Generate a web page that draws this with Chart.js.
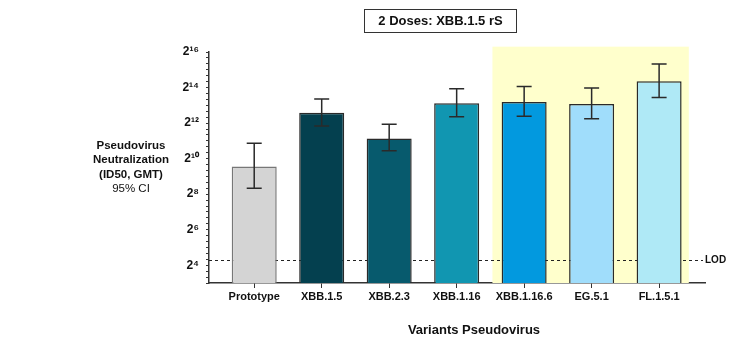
<!DOCTYPE html>
<html>
<head>
<meta charset="utf-8">
<script src="https://cdn.jsdelivr.net/npm/chart.js@4.4.1/dist/chart.umd.min.js"></script>
<style>
    body { margin: 0; background: #fff; font-family: "Liberation Sans", Arial, sans-serif; }
    #wrap { position: relative; width: 748px; height: 342px; }
    #chart { position: absolute; left: 0; top: 0; }
    .title-box { position: absolute; left: 364px; top: 9px; width: 151px; height: 22px; border: 1.5px solid #333;
        font-weight: bold; font-size: 13px; line-height: 22px; text-align: center; color: #111; }
    .y-label { position: absolute; left: 71px; top: 138px; width: 120px; text-align: center; font-size: 11.5px;
        line-height: 14.3px; color: #111; }
    .y-label b { font-weight: bold; }
    .x-label { position: absolute; left: 400px; top: 322px; width: 148px; text-align: center; font-size: 13px;
        font-weight: bold; color: #111; }
</style>
</head>
<body>
<div id="wrap">
    <canvas id="chart" width="748" height="342"></canvas>
    <div class="title-box">2 Doses: XBB.1.5 rS</div>
    <div class="y-label"><b>Pseudovirus<br>Neutralization<br>(ID50, GMT)</b><br>95% CI</div>
    <div class="x-label">Variants Pseudovirus</div>
</div>
<script>
// values are log2 of the GMT titer
const variants = ['Prototype', 'XBB.1.5', 'XBB.2.3', 'XBB.1.16', 'XBB.1.16.6', 'EG.5.1', 'FL.1.5.1'];
const gmtLog2 = [9.55, 12.58, 11.13, 13.12, 13.19, 13.08, 14.36];
const ciLowLog2 = [8.33, 11.83, 10.44, 12.35, 12.39, 12.24, 13.44];
const ciHighLog2 = [10.87, 13.36, 11.94, 13.93, 14.06, 13.98, 15.33];
const barColors = ['#d4d4d4', '#04404f', '#075a6d', '#1196b1', '#0299df', '#a0ddfb', '#afe9f6'];
const borderColors = ['#777777', '#2a2a2a', '#2a2a2a', '#2a2a2a', '#2a2a2a', '#2a2a2a', '#2a2a2a'];
const yTickPowers = [4, 6, 8, 10, 12, 14, 16];
const lodLog2 = 4.32;

const SUP = { '0': '⁰', '1': '¹', '2': '²', '3': '³', '4': '⁴', '5': '⁵', '6': '⁶', '7': '⁷', '8': '⁸', '9': '⁹' };
const supText = n => String(n).split('').map(c => SUP[c]).join('');

// shaded region behind the last three variants
const highlightPlugin = {
    id: 'highlight',
    beforeDatasetsDraw(chart) {
        const { ctx, scales: { x, y } } = chart;
        const x0 = x.getPixelForValue(3.53), x1 = x.getPixelForValue(6.44);
        const y0 = y.getPixelForValue(16.3), y1 = y.getPixelForValue(3);
        ctx.save();
        ctx.fillStyle = '#ffffcc';
        ctx.fillRect(x0, y0, x1 - x0, y1 - y0);
        // LOD dashed line
        const ly = Math.round(y.getPixelForValue(lodLog2)) + 0.5;
        ctx.strokeStyle = '#222';
        ctx.lineWidth = 1;
        ctx.setLineDash([3, 3]);
        ctx.beginPath();
        ctx.moveTo(x.left, ly);
        ctx.lineTo(x.right - 2, ly);
        ctx.stroke();
        ctx.setLineDash([]);
        ctx.fillStyle = '#111';
        ctx.font = 'bold 10px "Liberation Sans", Arial, sans-serif';
        ctx.textBaseline = 'middle';
        ctx.fillText('LOD', x.right, ly);
        ctx.restore();
    }
};

const errorBarPlugin = {
    id: 'errorBars',
    afterDatasetsDraw(chart) {
        const { ctx, scales: { x, y } } = chart;
        ctx.save();
        ctx.strokeStyle = '#2a2a2a';
        ctx.lineWidth = 1.5;
        variants.forEach((v, i) => {
            const cx = x.getPixelForValue(i);
            const yl = y.getPixelForValue(ciLowLog2[i]);
            const yh = y.getPixelForValue(ciHighLog2[i]);
            ctx.beginPath();
            ctx.moveTo(cx, yl); ctx.lineTo(cx, yh);
            ctx.moveTo(cx - 7.5, yl); ctx.lineTo(cx + 7.5, yl);
            ctx.moveTo(cx - 7.5, yh); ctx.lineTo(cx + 7.5, yh);
            ctx.stroke();
        });
        ctx.restore();
    }
};

new Chart(document.getElementById('chart'), {
    type: 'bar',
    data: {
        datasets: [{
            data: gmtLog2.map((v, i) => ({ x: i, y: v })),
            backgroundColor: barColors,
            borderColor: borderColors,
            borderWidth: 1.5,
            borderSkipped: 'bottom',
            barPercentage: 0.667,
            categoryPercentage: 1
        }]
    },
    options: {
        responsive: false,
        animation: false,
        layout: { padding: { top: 52, right: 43, left: 0, bottom: 0 } },
        plugins: { legend: { display: false }, tooltip: { enabled: false } },
        scales: {
            x: {
                type: 'linear',
                offset: false,
                min: -0.67,
                max: 6.68,
                afterFit: s => { s.height = 59; },
                afterBuildTicks: s => { s.ticks = variants.map((v, i) => ({ value: i })); },
                ticks: {
                    autoSkip: false,
                    maxRotation: 0,
                    padding: 2,
                    color: '#111',
                    font: { family: '"Liberation Sans", Arial, sans-serif', size: 11, weight: 'bold' },
                    callback: v => variants[v]
                },
                grid: { offset: false, drawOnChartArea: false, tickLength: 5, color: '#333', lineWidth: 1 },
                border: { color: '#333', width: 1.5 }
            },
            y: {
                type: 'linear',
                min: 3,
                max: 16,
                afterFit: s => { s.width = 209; },
                afterBuildTicks: s => {
                    const t = [];
                    for (let n = 9; n <= 48; n++) t.push({ value: n / 3 });
                    s.ticks = t;
                },
                ticks: {
                    autoSkip: false,
                    padding: 7,
                    color: '#111',
                    font: { family: '"Liberation Sans", Arial, sans-serif', size: 12, weight: 'bold' },
                    callback: v => {
                        const r = Math.round(v);
                        return (Math.abs(v - r) < 0.01 && yTickPowers.includes(r)) ? '2' + supText(r) : '';
                    }
                },
                grid: { drawOnChartArea: false, tickLength: 3, color: '#333', lineWidth: 1 },
                border: { color: '#333', width: 1.5 }
            }
        }
    },
    plugins: [highlightPlugin, errorBarPlugin]
});
</script>
</body>
</html>
